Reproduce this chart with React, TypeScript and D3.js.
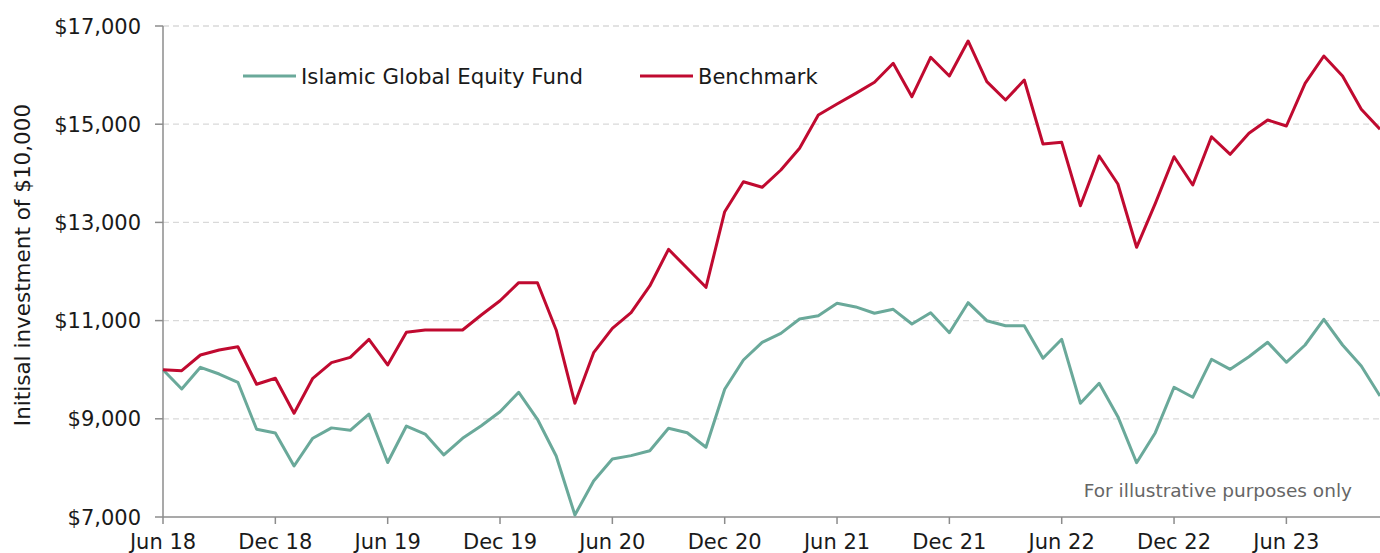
import React from "react";
import * as d3 from "d3";

const monthCount = 66; // Jun 18 .. Nov 23
const tickLabels = ["Jun 18", "Dec 18", "Jun 19", "Dec 19", "Jun 20", "Dec 20", "Jun 21", "Dec 21", "Jun 22", "Dec 22", "Jun 23"];
const tickIndex = [0, 6, 12, 18, 24, 30, 36, 42, 48, 54, 60];
const yTicks = [7000, 9000, 11000, 13000, 15000, 17000];

const fundValues = [
  10000, 9607, 10049, 9912, 9743, 8786, 8710, 8039, 8605, 8815, 8765, 9095,
  8110, 8853, 8690, 8263, 8603, 8860, 9145, 9540, 8990, 8242, 7041, 7733,
  8181, 8250, 8350, 8806, 8717, 8420, 9601, 10198, 10558, 10741, 11033, 11100,
  11352, 11278, 11149, 11230, 10931, 11161, 10754, 11365, 10998, 10896, 10896, 10232,
  10619, 9316, 9723, 9043, 8106, 8717, 9642, 9438, 10212, 10008, 10265, 10558,
  10151, 10503, 11026, 10503, 10075, 9464,
];

const benchmarkValues = [
  10000, 9980, 10299, 10401, 10468, 9703, 9825, 9112, 9825, 10143, 10252, 10619,
  10096, 10762, 10809, 10809, 10809, 11114, 11405, 11772, 11772, 10809, 9316, 10346,
  10843, 11161, 11705, 12452, 12065, 11678, 13218, 13829, 13715, 14067, 14509, 15187,
  15411, 15627, 15853, 16240, 15560, 16363, 15982, 16695, 15866, 15493, 15900, 14597,
  14631, 13340, 14352, 13782, 12493, 13389, 14338, 13762, 14745, 14387, 14815, 15086,
  14963, 15833, 16389, 15982, 15303, 14896,
];

const seriesNames = ["Islamic Global Equity Fund", "Benchmark"];
const yTitle = "Initisal investment of $10,000";
const note = "For illustrative purposes only";

const W = 1380;
const H = 553;
const FONT = "'DejaVu Sans', Verdana, sans-serif";
const GREEN = "#6aa99a";
const RED = "#c00a30";
const AXIS = "#8c8c8c";
const GRID = "#d9d9d9";

export default function App() {
  const x = d3.scaleLinear().domain([0, monthCount - 1]).range([163, 1380]);
  const y = d3.scaleLinear().domain([7000, 17000]).range([517, 26]);
  const line = d3
    .line<number>()
    .x((_, i) => x(i))
    .y((d) => y(d));
  const fmt = (v: number) => "$" + d3.format(",")(v);

  return (
    <svg
      width={W}
      height={H}
      style={{ position: "absolute", left: 0, top: 0, background: "#fff" }}
      fontFamily={FONT}
    >
      <rect x={0} y={0} width={W} height={H} fill="#fff" />
      {/* grid */}
      {yTicks
        .filter((t) => t !== 7000)
        .map((t) => (
          <line
            key={"g" + t}
            x1={x(0)}
            x2={W}
            y1={y(t)}
            y2={y(t)}
            stroke={GRID}
            strokeWidth={1.3}
            strokeDasharray="6,4"
          />
        ))}
      {/* y axis */}
      <line x1={x(0)} x2={x(0)} y1={y(17000)} y2={y(7000)} stroke={AXIS} strokeWidth={1.5} />
      {yTicks.map((t) => (
        <g key={"y" + t}>
          <line x1={x(0) - 8} x2={x(0)} y1={y(t)} y2={y(t)} stroke={AXIS} strokeWidth={1.5} />
          <text x={141} y={y(t) + 7.5} textAnchor="end" fontSize={21} fill="#1a1a1a">
            {fmt(t)}
          </text>
        </g>
      ))}
      {/* x axis */}
      <line x1={x(0)} x2={W} y1={y(7000)} y2={y(7000)} stroke={AXIS} strokeWidth={1.5} />
      {tickIndex.map((ti, k) => (
        <g key={"x" + ti}>
          <line x1={x(ti)} x2={x(ti)} y1={y(7000)} y2={y(7000) + 7} stroke={AXIS} strokeWidth={1.5} />
          <text x={x(ti)} y={549} textAnchor="middle" fontSize={21} fill="#1a1a1a">
            {tickLabels[k]}
          </text>
        </g>
      ))}
      {/* y title */}
      <text
        transform={`translate(30, 265) rotate(-90)`}
        textAnchor="middle"
        fontSize={21.5}
        fill="#1a1a1a"
      >
        {yTitle}
      </text>
      {/* lines */}
      <path d={line(fundValues) || ""} fill="none" stroke={GREEN} strokeWidth={3} strokeLinejoin="round" />
      <path d={line(benchmarkValues) || ""} fill="none" stroke={RED} strokeWidth={3} strokeLinejoin="round" />
      {/* legend */}
      <line x1={243} x2={296} y1={76} y2={76} stroke={GREEN} strokeWidth={3} />
      <text x={301} y={83.5} fontSize={21.3} fill="#1a1a1a">
        {seriesNames[0]}
      </text>
      <line x1={640} x2={693} y1={76} y2={76} stroke={RED} strokeWidth={3} />
      <text x={698} y={83.5} fontSize={21} fill="#1a1a1a">
        {seriesNames[1]}
      </text>
      {/* note */}
      <text x={1352} y={497} textAnchor="end" fontSize={18.5} fill="#666">
        {note}
      </text>
    </svg>
  );
}
